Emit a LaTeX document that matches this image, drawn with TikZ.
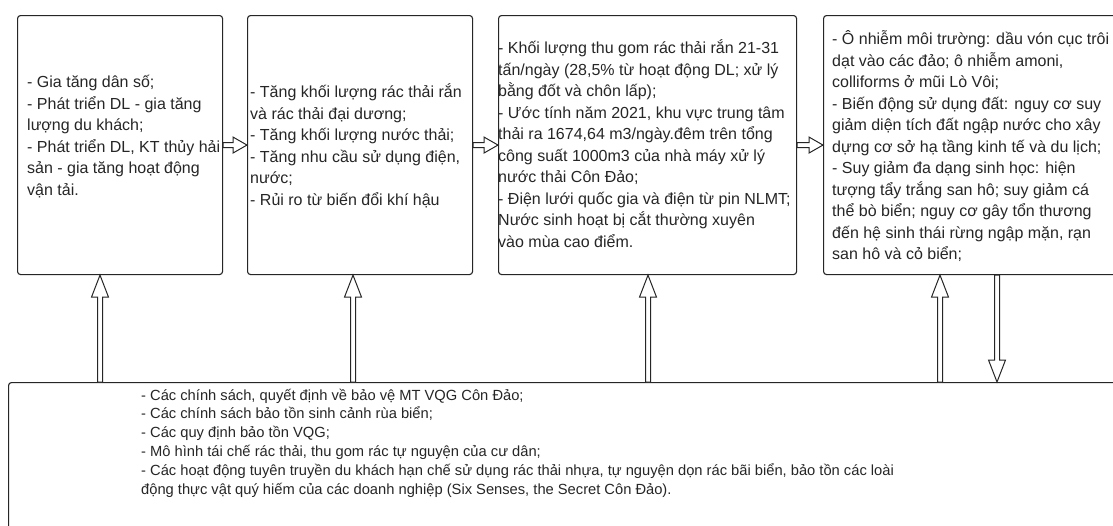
\documentclass[tikz,border=0pt]{standalone}
\usepackage{fontspec}
\setmainfont{Liberation Sans}
\usetikzlibrary{calc}
\tikzset{
  box/.style={draw=black!85, line width=1.1pt, rounded corners=3pt, anchor=north west, inner sep=0pt},
  txt/.style={anchor=west, inner sep=0pt, align=left, text=black!85, font=\fontsize{16}{21.5}\selectfont},
  btxt/.style={anchor=west, inner sep=0pt, align=left, text=black!85, font=\fontsize{14.7}{18.8}\selectfont},
  flex/.style={draw=black!85, line width=1pt, fill=white, line join=miter}
}
\newcommand\arrowup[2]{%
  \draw[flex] ($#1+(-2.5,0)$) -- ($#2+(-2.5,22)$) -- ($#2+(-8.5,22)$) -- #2
    -- ($#2+(8.5,22)$) -- ($#2+(2.5,22)$) -- ($#1+(2.5,0)$) -- cycle;}
\newcommand\arrowdown[2]{%
  \draw[flex] ($#1+(-2.5,0)$) -- ($#2+(-2.5,-22)$) -- ($#2+(-8.5,-22)$) -- #2
    -- ($#2+(8.5,-22)$) -- ($#2+(2.5,-22)$) -- ($#1+(2.5,0)$) -- cycle;}
\newcommand\arrowright[2]{%
  \draw[flex] ($#1+(0,-2.5)$) -- ($#2+(-14,-2.5)$) -- ($#2+(-14,-8)$) -- #2
    -- ($#2+(-14,8)$) -- ($#2+(-14,2.5)$) -- ($#1+(0,2.5)$) -- cycle;}
\begin{document}
\begin{tikzpicture}[x=1pt,y=-1pt]
\useasboundingbox (0,0) rectangle (1113,525);
\clip (0,0) rectangle (1113,525);
\fill[white] (0,0) rectangle (1113,525);

% boxes
\node[box, minimum width=205pt, minimum height=259pt] (box1) at (17,15) {};
\node[box, minimum width=225pt, minimum height=259pt] (box2) at (247,15) {};
\node[box, minimum width=298pt, minimum height=259pt] (box3) at (498,15) {};
\node[box, minimum width=330pt, minimum height=259pt] (box4) at (823,15) {};
\node[box, minimum width=1130pt, minimum height=170pt] (bot) at (8,382) {};

% texts
\node[txt] (t1) at ($(box1.west)+(10,-8.5)$) {- Gia tăng dân số;\\- Phát triển DL - gia tăng\\lượng du khách;\\- Phát triển DL, KT thủy hải\\sản - gia tăng hoạt động\\vận tải.};
\node[txt] (t2) at ($(box2.west)+(3,0.5)$) {- Tăng khối lượng rác thải rắn\\và rác thải đại dương;\\- Tăng khối lượng nước thải;\\- Tăng nhu cầu sử dụng điện,\\nước;\\- Rủi ro từ biến đổi khí hậu};
\node[txt] (t3) at ($(box3.west)+(0,-1.5)$) {- Khối lượng thu gom rác thải rắn 21-31\\tấn/ngày (28,5\% từ hoạt động DL; xử lý\\bằng đốt và chôn lấp);\\- Ước tính năm 2021, khu vực trung tâm\\thải ra 1674,64 m3/ngày.đêm trên tổng\\công suất 1000m3 của nhà máy xử lý\\nước thải Côn Đảo;\\- Điện lưới quốc gia và điện từ pin NLMT;\\Nước sinh hoạt bị cắt thường xuyên\\vào mùa cao điểm.};
\node[txt] (t4) at ($(box4.west)+(9,1)$) {- Ô nhiễm môi trường: dầu vón cục trôi\\dạt vào các đảo; ô nhiễm amoni,\\colliforms ở mũi Lò Vôi;\\- Biến động sử dụng đất: nguy cơ suy\\giảm diện tích đất ngập nước cho xây\\dựng cơ sở hạ tầng kinh tế và du lịch;\\- Suy giảm đa dạng sinh học: hiện\\tượng tẩy trắng san hô; suy giảm cá\\thể bò biển; nguy cơ gây tổn thương\\đến hệ sinh thái rừng ngập mặn, rạn\\san hô và cỏ biển;};
\node[btxt] (t5) at ($(bot.north west)+(133,61)$) {- Các chính sách, quyết định về bảo vệ MT VQG Côn Đảo;\\- Các chính sách bảo tồn sinh cảnh rùa biển;\\- Các quy định bảo tồn VQG;\\- Mô hình tái chế rác thải, thu gom rác tự nguyện của cư dân;\\- Các hoạt động tuyên truyền du khách hạn chế sử dụng rác thải nhựa, tự nguyện dọn rác bãi biển, bảo tồn các loài\\động thực vật quý hiếm của các doanh nghiệp (Six Senses, the Secret Côn Đảo).};

% connector end points
\coordinate (e1) at ($(box1.south west)+(83,0)$);
\coordinate (s1) at (e1 |- bot.north);
\coordinate (e2) at ($(box2.south west)+(106,0)$);
\coordinate (s2) at (e2 |- bot.north);
\coordinate (e3) at ($(box3.south west)+(150,0)$);
\coordinate (s3) at (e3 |- bot.north);
\coordinate (e4) at ($(box4.south west)+(117,0)$);
\coordinate (s4) at (e4 |- bot.north);
\coordinate (d4s) at ($(box4.south west)+(174,0)$);
\coordinate (d4e) at (d4s |- bot.north);

% connectors
\arrowright{(box1.east)}{(box1.east -| box2.west)}
\arrowright{(box2.east)}{(box2.east -| box3.west)}
\arrowright{(box3.east)}{(box3.east -| box4.west)}
\arrowup{(s1)}{(e1)}
\arrowup{(s2)}{(e2)}
\arrowup{(s3)}{(e3)}
\arrowup{(s4)}{(e4)}
\arrowdown{(d4s)}{(d4e)}
\end{tikzpicture}
\end{document}
